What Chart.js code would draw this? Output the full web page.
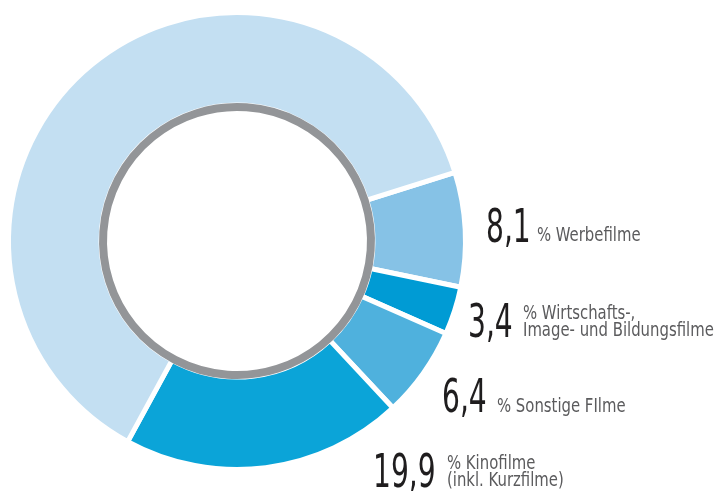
<!DOCTYPE html>
<html>
<head>
<meta charset="utf-8">
<script src="https://cdn.jsdelivr.net/npm/chart.js@4.4.1/dist/chart.umd.min.js"></script>
<style>
  html, body { margin: 0; padding: 0; background: #fff; }
  #wrap { position: relative; width: 718px; height: 491px; }
</style>
</head>
<body>
<div id="wrap"><canvas id="chart" width="718" height="491"></canvas></div>
<script>
// --- DATA ---
const categories = ['Werbefilme', 'Wirtschafts-, Image- und Bildungsfilme', 'Sonstige FIlme', 'Kinofilme (inkl. Kurzfilme)', 'Rest'];
const shares = [8.1, 3.4, 6.4, 19.9, 62.2];
const captionLines = [
    ['% Werbefilme'],
    ['% Wirtschafts-,', 'Image- und Bildungsfilme'],
    ['% Sonstige FIlme'],
    ['% Kinofilme', '(inkl. Kurzfilme)'],
    []
];

// --- STYLE / LAYOUT ---
const sliceColors = ['#86c2e6', '#009bd4', '#4fb1dd', '#0ba4d8', '#c3dff2'];
const ringGray = '#939598';
const condensed = '"DejaVu Sans Condensed", "Liberation Sans Narrow", sans-serif';

// label anchors: [number x, number baseline, caption x, caption baselines]
const labelLayout = [
    [486, 242, 537, [241]],
    [468, 337, 523, [319, 336]],
    [442, 412, 497, [412]],
    [373, 487, 447, [469, 486]],
    null
];

const fmt = v => v.toFixed(1).replace('.', ',');

// draw text squeezed horizontally to mimic the condensed print face
function squeezed(ctx, text, x, y, sx) {
    ctx.save();
    ctx.translate(x, y);
    ctx.scale(sx, 1);
    ctx.fillText(text, 0, 0);
    ctx.restore();
}

const labelPlugin = {
    id: 'sliceLabels',
    afterDraw(chart) {
        const ctx = chart.ctx;
        ctx.save();
        ctx.textBaseline = 'alphabetic';
        ctx.textAlign = 'left';
        shares.forEach((v, i) => {
            const l = labelLayout[i];
            if (!l) return;
            ctx.fillStyle = '#1f1d1e';
            ctx.font = '46px ' + condensed;
            squeezed(ctx, fmt(v), l[0], l[1], 0.68);
            ctx.fillStyle = '#5b5b5d';
            ctx.font = '19px ' + condensed;
            captionLines[i].forEach((t, k) => squeezed(ctx, t, l[2], l[3][k], 0.87));
        });
        ctx.restore();
    }
};

new Chart(document.getElementById('chart'), {
    type: 'doughnut',
    data: {
        labels: categories,
        datasets: [
            {
                data: shares,
                backgroundColor: sliceColors,
                borderColor: '#ffffff',
                borderWidth: 5,
                weight: 93
            },
            {
                // inner gray ring
                data: [1],
                backgroundColor: ringGray,
                borderColor: ringGray,
                borderWidth: 4,
                weight: 4,
                order: -1
            }
        ]
    },
    options: {
        responsive: false,
        animation: false,
        rotation: 72.5,
        cutout: 132,
        layout: { padding: { left: 6, right: 250, top: 10, bottom: 19 } },
        plugins: {
            legend: { display: false },
            tooltip: { enabled: false }
        }
    },
    plugins: [labelPlugin]
});
</script>
</body>
</html>
